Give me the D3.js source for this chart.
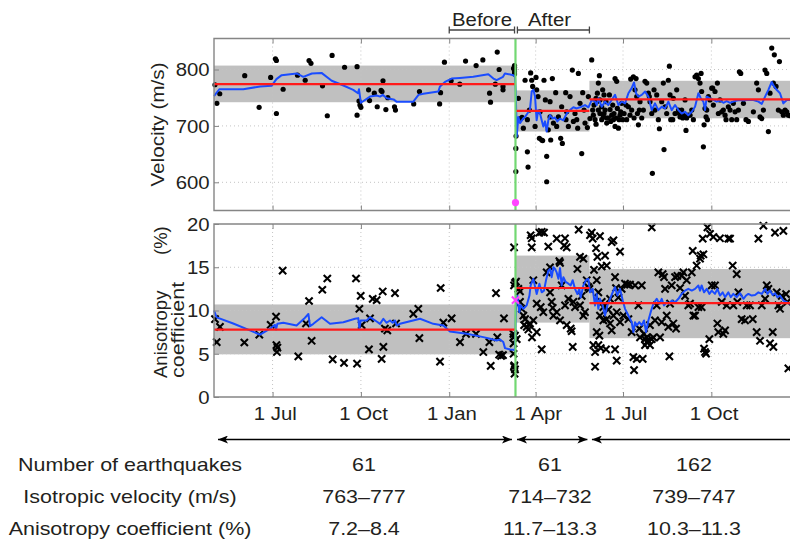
<!DOCTYPE html>
<html><head><meta charset="utf-8">
<script src="https://cdn.jsdelivr.net/npm/d3@7"></script>
<style>
body{margin:0;background:#fff;}
text{font-family:"Liberation Sans",Arial,Helvetica,sans-serif;fill:#231f20;}
</style></head><body>
<svg id="c" width="790" height="546"></svg>
<script>
// ---------- data (day = days since 1 May 2010) ----------
const baseDate = Date.UTC(2010,4,1);
const domainEndDay = 602;
const mainshockDay = 314;
const splitDay = 391;
const xTickDays = [61,153,245,335,426,518]; // 1 Jul, 1 Oct, 1 Jan, 1 Apr, 1 Jul, 1 Oct
const velTicks = [600,700,800];
const anisTicks = [0,5,10,15,20];
const mainshockVel = 564, mainshockAnis = 11.2;

const velMean = [774, 726.5, 747];
const velBand = [[742,807],[690,763],[713.5,780]];
const anisMean = [7.8, 12.6, 10.85];
const anisBand = [[4.93,10.7],[8.6,16.35],[6.8,14.8]];

const velPoints = [[1,773],[3,740],[6,757],[32,789],[47,733],[59,786],[64,819],[65,816],[65,722],[72,765],[87,790],[95,781],[99,816],[101,811],[113,771],[118,718],[123,825],[136,804],[149,805],[149,719],[151,744],[152,737],[153,733],[161,764],[162,745],[167,758],[170,734],[174,763],[175,761],[176,780],[179,729],[181,750],[188,734],[189,728],[208,739],[214,761],[235,739],[236,759],[240,813],[247,780],[256,774],[262,815],[273,807],[280,817],[287,758],[288,742],[293,774],[295,831],[297,800],[301,770],[301,764],[312,802],[313,807],[313,804],[313,800],[313,796],[313,792],
[314.4,660],[314.4,619],[314.6,682],[317,749],[318,711],[319.4,713],[320.8,715],[322.2,696],[324,781],[326.4,711],[326.4,654],[327.1,627],[329.8,794],[330.9,781],[331.9,770],[335.4,786],[336.1,764],[337.5,752],[338.9,678],[341.3,675],[342.3,674],[343.7,781],[345.1,746],[346.5,646],[346.5,601],[348.2,693],[350,743],[350.7,675],[352.4,784],[355.9,759],[356.9,699],[361.1,678],[362.8,669],[366.3,759],[366.6,711],[367.3,725],[373.2,799],[374.3,708],[378.8,696],[379.5,793],[381.2,740],[383,651],[384,759],[385.4,728],[388.9,697],[389.9,752],[391.6,713],[353.5,705],[358.7,716],[369.1,699],[376,722],[386.4,705],[334.4,699],[328.5,728],[339.6,725],[362.1,734],[377.8,711],[370.8,752],[350,716],
[393.4,817],[394.4,728],[395.1,719],[396.9,711],[397.9,703],[398.6,743],[399.3,758],[400.3,776],[401.4,789],[402,722],[403.8,711],[405.5,716],[407.3,728],[409,714],[404.8,764],[406.2,755],[409,705],[412.5,729],[414.2,719],[416,711],[417.7,784],[419.4,779],[417.7,699],[421.2,696],[422.9,719],[421.9,711],[424.6,740],[429.8,711],[431.6,734],[434,783],[436.8,787],[439.6,784],[438.5,764],[440.3,752],[442,702],[443,728],[443.7,743],[448.9,779],[450.7,776],[452.4,758],[453.4,752],[456.6,616],[458.3,764],[461.1,755],[462.8,711],[463.9,695],[466.3,743],[468,776],[468.7,658],[473.2,781],[474.3,806],[475,755],[475.7,711],[477.8,711],[478.4,749],[480.2,722],[481.9,764],[483.7,728],[485.4,716],[487.1,728],[488.9,719],[490.6,746],[491.6,692],[494,719],[495.8,719],[497.6,728],[499.3,711],[501,787],[502.7,790],[504.5,784],[506.2,776],[507.3,793],[507.9,761],[509.7,663],[510.4,702],[511.4,731],[512.5,716],[513.9,711],[514.9,752],[516.6,746],[518.4,767],[519.4,767],[521.8,761],[524.3,776],[527,746],[528.8,725],[530.5,728],[533.3,711],[535.7,734],[537.5,728],[540.9,740],[542.7,725],[544.4,711],[547.2,796],[548.6,793],[551.4,740],[554.1,711],[556.6,708],[565.2,776],[567,764],[568.7,716],[570.5,713],[573.9,799],[575.7,793],[577.4,690],[579.1,758],[580.9,838],[582.6,776],[583.6,826],[585.4,770],[587.8,728],[588.9,814],[591.3,725],[594.8,728],[598.2,719],
[395.8,737],[397.9,749],[400.3,728],[402,746],[403.8,734],[406.2,722],[408.3,743],[410.7,714],[411.8,755],[413.2,708],[415.3,737],[416.6,722],[418.7,714],[420.1,731],[423.6,725],[425.7,711],[427.1,722],[429.1,737],[433.3,719],[435,728],[437.5,714],[441,722],[445.5,714],[447.2,728],[454.1,743],[455.9,722],[459.3,728],[469.8,734],[471.5,722],[484.7,722],[488.2,714],[492.3,714],[513.2,728],[520.1,737],[525.3,722],[532.3,719],[539.2,711],[546.2,728],[561.8,725],[572.2,728],[593,719],[596.5,725],[600,718]];

const velAvg = [[0,753],[5.5,765],[30.5,765],[48,770],[60,771],[65,783],[70.5,790],[86,793],[93,787],[102,793],[112,794],[122.6,780],[133,773],[145,764],[150,758],[151,765],[153,741],[162.5,752],[169.4,754],[173,752],[175.7,755],[180,749],[187,747],[190,743],[207.6,743],[213,755],[218,757],[233.6,761],[235.4,770],[240.6,778],[247.5,784],[256.2,785],[270,787],[285.7,791.5],[291,784],[294.4,781],[301,787],[303,793],[311.8,790],[313.5,787],[314.3,760],[315.3,681],[317,716],[318.7,705],[322,713],[324,716],[326.4,722],[329,728],[330.9,761],[332.6,764],[334.4,752],[336,710],[337.8,728],[339.6,722],[341.3,710],[343,699],[344.8,708],[346.5,690],[348.2,710],[350,719],[352.8,713],[355,715],[357.6,708],[360.4,713],[363.9,710],[367.3,722],[370.8,728],[374.3,733],[377.8,731],[381.2,733],[386.4,737],[390,733],[393.4,746],[396.9,743],[398.6,737],[400.3,749],[403.8,734],[407.3,743],[410.7,737],[414.2,746],[417.7,755],[421.2,737],[424.6,743],[428.1,740],[431.6,758],[435,767],[437.5,777],[439.6,758],[442,752],[445.5,755],[449,761],[452.4,752],[455.9,728],[459.3,740],[462.8,728],[466.3,734],[469.8,731],[473.2,743],[476.7,728],[480.2,737],[483.7,728],[487.1,722],[490.6,725],[494,719],[497.6,725],[501,734],[504.5,758],[507,749],[509.7,743],[511.4,728],[513.2,752],[516.6,749],[520,746],[523.6,743],[527,745],[530.5,741],[534,744],[537.5,741],[541,743],[544.4,745],[547.9,746],[551.4,745],[554.8,746],[561.8,746],[567,743],[570.5,739],[574,752],[577.4,764],[580.9,778],[583.3,770],[586,764],[589.5,758],[593,740],[596.5,746],[600,746]];

const anisPoints = [[1,9.0],[2.8,6.35],[6.2,8.1],[31.6,6.3],[47.2,7.2],[59,8.35],[64.6,9.3],[65,6.0],[65.5,5.2],[66,5.7],[71.5,14.6],[87.8,4.7],[95.8,8.5],[99,11.1],[101.7,6.5],[112.8,12.4],[118,13.7],[123.6,4.35],[135.4,3.95],[147.9,13.7],[149,3.85],[151.4,10.2],[152.8,11.7],[153.8,8.3],[161.4,5.5],[162.5,9.1],[165.3,11.35],[169.4,11.2],[175.7,12.2],[174.6,4.4],[176.4,5.8],[178,7.9],[180.5,7.7],[188.5,12],[189.6,8.5],[207.6,9.6],[212.8,10.2],[213.9,6.8],[236.1,12.6],[235.4,4.1],[238.9,8.6],[247.5,9.1],[256.2,6.35],[262.5,7.3],[272.9,7.3],[280.5,5.2],[286.8,6.35],[288.2,3.6],[293.7,12],[295.1,6.9],[297,4.9],[299,4.75],[301,4.85],[302,9.1],[311.8,7.3],[311.8,6.9],[312,6.2],[312,5],[312.5,3.5],[313,2.7],[312.5,17.3],[313.5,13.2],[312.5,12.9],[314.6,13.35],[313.5,7.1],[315.3,6.7],[312.8,3.65],[313.5,3.2],
[317,12.5],[318.7,12.2],[318.7,11.0],[320.5,10.2],[322.2,9.4],[324,9.0],[323,8.3],[325.7,8.1],[327.4,7.8],[329.8,18.7],[330.9,18.35],[330.9,17.3],[332.6,13.5],[331.2,6.9],[336.1,10.8],[338.9,19],[341.3,19.1],[343.7,19],[341.3,5.5],[340.3,10.4],[343,9.8],[346.5,14.4],[348.2,17.4],[350,15],[350,12.1],[351.7,11],[352.8,10.3],[356.9,18.3],[359.7,15.7],[360.4,15.5],[362.1,12.9],[364.6,17.5],[365.6,18.35],[367.3,17.3],[369.1,11.35],[371.5,7.9],[372.5,7.6],[373.6,5.8],[376,10.4],[378.5,14.8],[379.8,19.35],[381.2,16.2],[383,11.7],[384.7,16],[386.4,9.8],[388.2,13.5],[389.9,12.7],[391,12.5],[353.5,9.4],[356.9,9.8],[360.4,8.85],[365.6,10.6],[367.3,8.3],[374.3,11],[381.2,10.6],[384.7,9.4],[329.1,8.5],[332.6,8.85],[336.1,7.5],[328.5,8.3],
[391.6,18.7],[393.4,19],[394.4,18.3],[395.8,14.7],[396.9,5.2],[396.9,3.5],[397.9,17.2],[398.6,13.5],[399.3,16.2],[400.3,12.1],[401.4,7.1],[402,18.6],[403.8,15.1],[402.8,5.65],[405.5,10.4],[407.3,16.35],[408.3,5.5],[409,15.2],[410.7,10.1],[412.5,11.35],[414.2,17.9],[416,18.1],[417.7,13.85],[417.7,5.5],[418.7,12.6],[419.4,4.2],[421.2,11.5],[422.9,16.8],[424.6,12.5],[428.1,13.1],[430.5,13],[431.6,9],[433.3,13],[435,7.5],[436.8,4.6],[437.5,3.1],[438.5,12.9],[440.3,4.4],[442,10.6],[443,7.9],[443.7,6.9],[445.5,12.9],[446.5,4.4],[447.9,7.3],[448.9,6.7],[450.7,6.9],[452.4,6.5],[454.1,8.3],[455.9,19.6],[457.6,6.9],[459.3,8.85],[461.1,10.6],[462.8,14.4],[464.6,6.9],[466.3,8.65],[467.3,14.2],[468.7,13.85],[469.8,12.5],[471.5,9.4],[473.2,8.1],[474.3,4.7],[475,10.8],[476.7,12.9],[478.4,8.5],[480.2,13.85],[481.2,7.9],[482.6,14],[485.4,12.6],[487.1,14],[488.9,14.4],[490.6,11.7],[492.3,13.5],[494,10.6],[495.8,10.8],[497.6,14.4],[498.6,16.9],[499.3,9.4],[501,9.4],[502.7,15.2],[504.5,10.4],[506.2,16],[506.9,16.35],[507.9,10.4],[509,18.3],[509.7,16.5],[510.4,5.6],[511.4,5.2],[512.5,5],[513.9,19.6],[515.9,6.7],[516.6,18.85],[518.4,12.9],[520.1,18.5],[521.8,12.9],[524.3,8.5],[525.3,7.5],[527,18.35],[528.8,11],[530.5,7.3],[532.3,7.7],[534,10.6],[535.7,18.3],[537.5,18.3],[540.2,15.2],[540.9,10.6],[544.4,14.2],[545.1,11],[546.2,12.1],[549.6,9],[553.1,8.85],[554.8,10.6],[558.3,10.6],[561.1,9],[565.2,7.5],[567,18.3],[568.7,6.5],[570.5,10.6],[572.2,19.8],[574,11.35],[575.7,12.9],[577.4,12.5],[579.1,6.2],[581.9,7.5],[582.6,5.8],[584.3,19],[586.1,12.1],[587.8,10.6],[589.5,10.2],[591.3,11.7],[593,19.2],[595.8,11.9],[597.2,11],[598.2,3.3],
[402,9.4],[405.5,8.85],[409,9],[412.5,8.5],[414.2,7.7],[416,9.4],[419.4,9.8],[422.9,8.65],[426.4,9.4],[403.8,11],[398.6,7.5],[400.3,6],[395.1,6],[450.7,6.35],[454.1,6],[455.9,6.7],[448.9,6]];

const anisAvg = [[0,10],[2.8,9.2],[20,8.5],[37.5,7.7],[48,7.2],[58.3,7.9],[63.5,8.35],[64.6,7.8],[66,8.46],[72.2,8.58],[86,8.27],[93.7,9.04],[98.3,9.6],[100,8.2],[103.5,8.46],[112.1,9.23],[120.8,8.46],[134.7,8.65],[146.9,9.04],[150.3,9.12],[151.4,7.89],[152.8,8.85],[159,8.85],[162.5,9.23],[169.4,8.73],[172.9,8.46],[176.4,9.04],[179.8,8.58],[183.3,8.85],[186.1,8.58],[188.5,8.85],[190.3,8.27],[193.7,8.46],[214.6,9.04],[228.4,8.46],[238.9,8.27],[245.8,7.58],[263.2,7.31],[280.5,6.92],[287.5,6.73],[294.4,6.54],[297.9,6.65],[301.3,6.35],[303.1,5.65],[308.3,5.5],[311.8,5.46],[313.5,5.4],[314.6,10.6],[316,11.7],[318,9.8],[319.4,10.6],[322.2,10.2],[325.7,10.6],[328.5,11.7],[329.8,12.9],[332.6,13.66],[336.1,11.9],[338.9,13.1],[341.3,12.1],[343.7,12.3],[345.8,13.5],[348.2,14.6],[350,14.8],[351.7,13.85],[353.5,15],[355.2,14.8],[356.9,14.4],[358.7,13.66],[360.4,14.9],[362.1,12.9],[363.9,13.85],[366.3,13.3],[369.1,13.1],[371.5,12.9],[373.6,13.5],[376,12.5],[378.5,11.9],[380.5,12.5],[381.9,11.5],[384.7,12.9],[387.5,13.5],[389.9,13.66],[391.6,12.1],[394.4,12.5],[396.9,10.58],[398.6,11.9],[400.3,10.2],[402,11.35],[404.8,10.58],[407.3,9.42],[409.7,10.58],[412.5,11.35],[415.3,12.12],[417.7,12.7],[420.1,11.73],[422.9,12.5],[425.7,11.15],[428.1,10.19],[431.6,9.42],[435,8.65],[436.8,7.5],[438.5,8.65],[440.3,8.27],[443,8.65],[445.5,8.27],[447.9,8.85],[450,7.5],[452.4,8.85],[454.8,9.81],[457.6,10.77],[461.1,11.35],[463.9,10.77],[466.3,11.35],[468.7,10.58],[471.5,10.96],[474.3,10.77],[476.7,11.15],[480.2,10.96],[483.7,11.35],[487.1,11.92],[490.6,12.3],[494,12.5],[497.6,12.3],[501,12.5],[504.5,12.89],[506.2,12.3],[507.9,12.9],[510.4,12.1],[513.2,12.5],[515.9,11.92],[518.4,12.3],[521.8,11.92],[524.3,12.5],[527,11.73],[529.8,12.1],[532.3,11.54],[535.7,12.1],[538.2,11.54],[540.9,11.92],[544.4,11.54],[547.9,12],[551.4,11.35],[554.1,11.73],[556.6,11.92],[560,11.73],[563.5,11.8],[567,12.1],[570.5,11.92],[574,12.5],[576.4,11.92],[579.1,12.3],[581.9,11.8],[584.3,12],[586.8,11.54],[589.5,11.73],[593,11.15],[596.5,10.96],[600,10.77]];

const rowLabels = ["Number of earthquakes","Isotropic velocity (m/s)","Anisotropy coefficient (%)"];
const colBefore = ["61","763–777","7.2–8.4"];
const colAfter = ["61","714–732","11.7–13.3"];
const colLater = ["162","739–747","10.3–11.3"];

// ---------- drawing ----------
const svg = d3.select("#c");
const toDate = d => new Date(baseDate + d*864e5);
const x = d3.scaleUtc().domain([toDate(0), toDate(domainEndDay)]).range([214, 792]);
const periods = [[0, mainshockDay],[mainshockDay, splitDay],[splitDay, domainEndDay]];
const fmt = d3.utcFormat("%-d %b");
const SX = 1.1;
const frameColor = "#858585";

function panel(cfg){
  const g = svg.append("g");
  const y = d3.scaleLinear().domain(cfg.domain).range([cfg.bottom, cfg.top]);
  const L = x.range()[0], R = x.range()[1];
  // bands
  g.selectAll(".band").data(periods).join("rect")
    .attr("x", p => x(toDate(p[0]))).attr("width", p => x(toDate(p[1])) - x(toDate(p[0])))
    .attr("y", (p,i) => y(cfg.band[i][1])).attr("height", (p,i) => y(cfg.band[i][0]) - y(cfg.band[i][1]))
    .attr("fill", "#c0c0c0");
  // grid
  g.selectAll(".gx").data(xTickDays).join("line")
    .attr("x1", d => x(toDate(d))).attr("x2", d => x(toDate(d)))
    .attr("y1", cfg.top).attr("y2", cfg.bottom)
    .attr("stroke", "#c4c4c4").attr("stroke-width", 1).attr("stroke-dasharray", "1,3");
  g.selectAll(".gy").data(cfg.ticks.filter(t => y(t) > cfg.top + 1 && y(t) < cfg.bottom - 1)).join("line")
    .attr("x1", L).attr("x2", R).attr("y1", d => y(d)).attr("y2", d => y(d))
    .attr("stroke", "#c4c4c4").attr("stroke-width", 1).attr("stroke-dasharray", "1,3");
  // points
  if (cfg.marker === "dot") {
    g.selectAll(".pt").data(cfg.points).join("circle")
      .attr("cx", d => x(toDate(d[0]))).attr("cy", d => y(d[1])).attr("r", 2.6).attr("fill", "#000");
  } else {
    g.selectAll(".pt").data(cfg.points).join("path")
      .attr("transform", d => `translate(${x(toDate(d[0]))},${y(d[1])})`)
      .attr("d", "M-3.6,-3.6L3.6,3.6M-3.6,3.6L3.6,-3.6")
      .attr("stroke", "#000").attr("stroke-width", 2.1).attr("fill", "none");
  }
  // blue running line
  g.append("path").datum(cfg.avg)
    .attr("d", d3.line().x(d => x(toDate(d[0]))).y(d => y(d[1])))
    .attr("fill", "none").attr("stroke", "#1a4cff").attr("stroke-width", 2).attr("stroke-linejoin", "round");
  // red means
  g.selectAll(".mean").data(periods).join("line")
    .attr("x1", p => x(toDate(p[0]))).attr("x2", p => x(toDate(p[1])))
    .attr("y1", (p,i) => y(cfg.mean[i])).attr("y2", (p,i) => y(cfg.mean[i]))
    .attr("stroke", "#ff1a1a").attr("stroke-width", 2.2);
  // green mainshock line
  g.append("line").attr("x1", x(toDate(mainshockDay))).attr("x2", x(toDate(mainshockDay)))
    .attr("y1", cfg.top).attr("y2", cfg.bottom).attr("stroke", "#72d872").attr("stroke-width", 2.2);
  // magenta mainshock
  if (cfg.marker === "dot") {
    g.append("circle").attr("cx", x(toDate(mainshockDay))).attr("cy", y(cfg.ms)).attr("r", 3.6).attr("fill", "#ff45ff");
  } else {
    g.append("path").attr("transform", `translate(${x(toDate(mainshockDay))},${y(cfg.ms)})`)
      .attr("d", "M-3.6,-3.6L3.6,3.6M-3.6,3.6L3.6,-3.6").attr("stroke", "#ff45ff").attr("stroke-width", 2.1);
  }
  // frame
  g.append("path").attr("d", `M${R},${cfg.top}H${L}V${cfg.bottom}H${R}`)
    .attr("fill", "none").attr("stroke", frameColor).attr("stroke-width", 1.4);
  // axes
  const ay = g.append("g").attr("transform", `translate(${L},0)`)
    .call(d3.axisLeft(y).tickValues(cfg.ticks).tickSizeInner(-5).tickSizeOuter(0).tickPadding(4));
  ay.select(".domain").remove();
  ay.selectAll(".tick line").attr("stroke", frameColor);
  ay.selectAll(".tick text").attr("fill", "#231f20").style("font-size", "18.5px")
    .style("font-family", '"Liberation Sans",Arial,sans-serif').attr("transform", `scale(${SX},1)`).attr("dy", "0.34em");
  const axTop = g.append("g").attr("transform", `translate(0,${cfg.top})`)
    .call(d3.axisTop(x).tickValues(xTickDays.map(toDate)).tickSizeInner(-5).tickSizeOuter(0).tickFormat(""));
  axTop.select(".domain").remove();
  axTop.selectAll(".tick line").attr("stroke", frameColor);
  const axb = g.append("g").attr("transform", `translate(0,${cfg.bottom})`)
    .call(d3.axisBottom(x).tickValues(xTickDays.map(toDate)).tickSizeInner(-5).tickSizeOuter(0).tickPadding(10)
      .tickFormat(cfg.showX ? fmt : ""));
  axb.select(".domain").remove();
  axb.selectAll(".tick line").attr("stroke", frameColor);
  axb.selectAll(".tick text").attr("fill", "#231f20").style("font-size", "18.5px").attr("x", 2)
    .style("font-family", '"Liberation Sans",Arial,sans-serif').attr("transform", `scale(${SX},1)`);
  return y;
}

const yV = panel({domain:[550,855], top:38.5, bottom:210.5, ticks:velTicks, band:velBand, mean:velMean,
  points:velPoints, avg:velAvg, marker:"dot", ms:mainshockVel, showX:false});
const yA = panel({domain:[0,20], top:224, bottom:397, ticks:anisTicks, band:anisBand, mean:anisMean,
  points:anisPoints, avg:anisAvg, marker:"cross", ms:mainshockAnis, showX:true});

function txt(s, tx, ty, opt){
  opt = opt || {};
  const t = svg.append("text")
    .attr("transform", `translate(${tx},${ty})` + (opt.rot ? ` rotate(${opt.rot})` : "") + ` scale(${opt.sx||SX},1)`)
    .attr("text-anchor", opt.anchor || "middle")
    .style("font-size", (opt.fs || 18.5) + "px")
    .text(s);
  return t;
}

// y labels
txt("Velocity (m/s)", 163.5, (38.5+210.5)/2, {rot:-90, sx:1.12});
txt("Anisotropy", 166.5, 378, {rot:-90, anchor:"start", sx:1.0});
txt("(%)", 166.5, 255, {rot:-90, anchor:"start", sx:1.0});
txt("coefficient", 183.5, 378, {rot:-90, anchor:"start", sx:1.16});

// Before / After brackets
const bracketY = 30;
const brackets = [[245, mainshockDay - 1, "Before"], [mainshockDay + 2, splitDay, "After"]];
brackets.forEach(b => {
  const x0 = x(toDate(b[0])), x1 = x(toDate(b[1]));
  svg.append("path").attr("d", `M${x0},${bracketY-3.5}V${bracketY+3.5}M${x0},${bracketY}H${x1}M${x1},${bracketY-3.5}V${bracketY+3.5}`)
    .attr("stroke", "#444").attr("stroke-width", 1.3).attr("fill", "none");
});
txt("Before", 482, 25.5, {sx:1.1});
txt("After", 549.5, 25.5, {sx:1.1});

// table arrows
const defs = svg.append("defs");
defs.append("marker").attr("id", "ah").attr("viewBox", "0 0 10 8").attr("refX", 10).attr("refY", 4)
  .attr("markerWidth", 10).attr("markerHeight", 8).attr("markerUnits", "userSpaceOnUse").attr("orient", "auto-start-reverse")
  .append("path").attr("d", "M0,0L10,4L0,8L2.5,4Z").attr("fill", "#000");
const arrowY = 439.5;
const arrows = [[x(toDate(0)) + 4, x(toDate(mainshockDay)) - 3.5, true],
                [x(toDate(mainshockDay)) + 1.5, x(toDate(splitDay)) - 2, true],
                [x(toDate(splitDay)) + 2.5, 800, false]];
arrows.forEach(a => {
  const l = svg.append("line").attr("x1", a[0]).attr("x2", a[1]).attr("y1", arrowY).attr("y2", arrowY)
    .attr("stroke", "#000").attr("stroke-width", 1.3).attr("marker-start", "url(#ah)");
  if (a[2]) l.attr("marker-end", "url(#ah)");
});

// table text
const rowY = [470.5, 502.5, 534.5];
const TS = 1.16;
rowLabels.forEach((s,i) => txt(s, 130, rowY[i], {sx:TS}));
[[colBefore, 364], [colAfter, 550], [colLater, 694]].forEach(c => {
  c[0].forEach((s,i) => txt(s, c[1], rowY[i], {sx:TS}));
});
</script>
</body></html>
